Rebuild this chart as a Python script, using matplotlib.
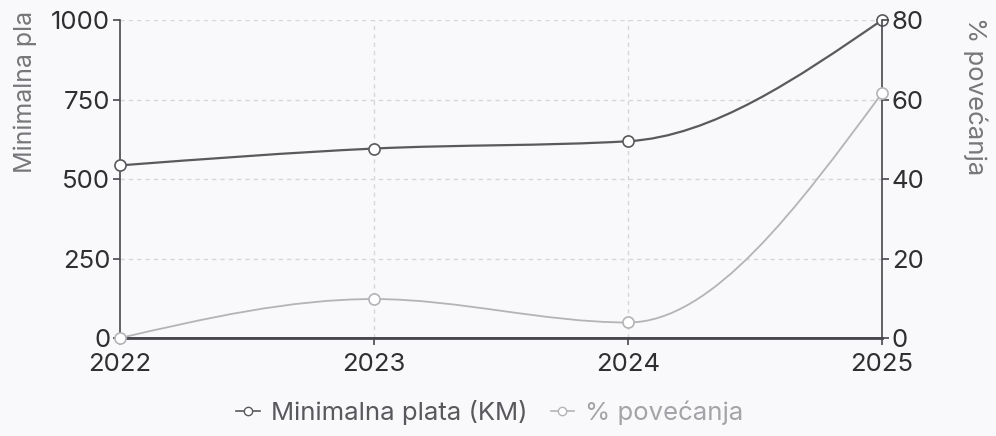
import matplotlib.pyplot as plt
import numpy as np
from matplotlib.path import Path
from matplotlib.patches import PathPatch
from matplotlib.lines import Line2D

plt.rcParams['font.family'] = ['Inter', 'DejaVu Sans']

# DATA
years = [2022, 2023, 2024, 2025]
plata = [543, 596, 619, 1000]
povecanje = [0, 9.8, 3.9, 61.6]
left_ticks = [0, 250, 500, 750, 1000]
right_ticks = [0, 20, 40, 60, 80]

DARK = '#5a5a5e'
LIGHT = '#b4b4b8'
BG = '#f9f9fb'


# MONOTONE CURVE (same as d3 curveMonotoneX) AS BEZIER PATH
def monotone_path(x, y):
    x = np.asarray(x, float)
    y = np.asarray(y, float)
    h = np.diff(x)
    s = np.diff(y) / h
    n = len(x)
    t = np.zeros(n)
    for i in range(1, n - 1):
        p = (s[i - 1] * h[i] + s[i] * h[i - 1]) / (h[i - 1] + h[i])
        t[i] = (np.sign(s[i - 1]) + np.sign(s[i])) * min(abs(s[i - 1]), abs(s[i]), 0.5 * abs(p))
    t[0] = (3 * s[0] - t[1]) / 2
    t[-1] = (3 * s[-1] - t[-2]) / 2
    verts = [(x[0], y[0])]
    codes = [Path.MOVETO]
    for i in range(n - 1):
        dx = h[i] / 3
        verts += [(x[i] + dx, y[i] + dx * t[i]), (x[i + 1] - dx, y[i + 1] - dx * t[i + 1]), (x[i + 1], y[i + 1])]
        codes += [Path.CURVE4] * 3
    return Path(verts, codes)


fig = plt.figure(figsize=(9.96, 4.36), dpi=100, facecolor=BG)
ax = fig.add_axes([0.1205, 0.2248, 0.765, 0.729])
ax.set_facecolor(BG)
ax2 = ax.twinx()

ax.set_xlim(years[0], years[-1])
ax.set_ylim(0, 1000)
ax2.set_ylim(0, 80)

# GRID
for v in left_ticks:
    ax.axhline(v, color='#d6d6da', lw=1, ls=(0, (3, 3)), zorder=0)
for yr in years[1:-1]:
    ax.axvline(yr, color='#d6d6da', lw=1, ls=(0, (3, 3)), zorder=0)

# LINES
ax.add_patch(PathPatch(monotone_path(years, plata), fill=False, edgecolor=DARK, lw=1.6, zorder=3))
ax.plot(years, plata, ls='none', marker='o', ms=8, mfc='white', mec=DARK, mew=1.2, clip_on=False, zorder=4)
ax2.add_patch(PathPatch(monotone_path(years, povecanje), fill=False, edgecolor=LIGHT, lw=1.3, zorder=3))
ax2.plot(years, povecanje, ls='none', marker='o', ms=8, mfc='white', mec=LIGHT, mew=1.2, clip_on=False, zorder=4)

# AXES
ax.set_xticks(years)
ax.set_xticklabels([str(y) for y in years])
ax.set_yticks(left_ticks)
ax2.set_yticks(right_ticks)
for a in (ax, ax2):
    a.spines['top'].set_visible(False)
    for sp in a.spines.values():
        sp.set_color('#48484c')
        sp.set_linewidth(1.2)
    a.tick_params(colors='#48484c', labelcolor='#2f2f32', labelsize=18.5, length=5, width=1.2)
ax.spines['bottom'].set_linewidth(2)
ax.spines['right'].set_visible(False)
ax2.spines['left'].set_visible(False)
ax.tick_params(axis='x', pad=6)
ax.tick_params(axis='y', pad=2)
ax2.tick_params(axis='y', pad=2)

fig.text(0.025, 0.79, 'Minimalna pla', rotation=90, ha='center', va='center', fontsize=18, color='#77777b')
fig.text(0.979, 0.78, '% povećanja', rotation=270, ha='center', va='center', fontsize=18.5, color='#77777b')

# LEGEND
handles = [
    Line2D([], [], color=DARK, lw=1.2, marker='o', ms=6, mfc='white', mec=DARK),
    Line2D([], [], color=LIGHT, lw=1.2, marker='o', ms=6, mfc='white', mec=LIGHT),
]
leg = fig.legend(handles, ['Minimalna plata (KM)', '% povećanja'], loc='center', bbox_to_anchor=(0.492, 0.053),
                 ncol=2, frameon=False, fontsize=18.5, handlelength=0.9, handletextpad=0.45, columnspacing=0.9)
leg.get_texts()[0].set_color('#59595d')
leg.get_texts()[1].set_color('#a4a4a8')

plt.savefig('out.png', dpi=100, facecolor=BG)
